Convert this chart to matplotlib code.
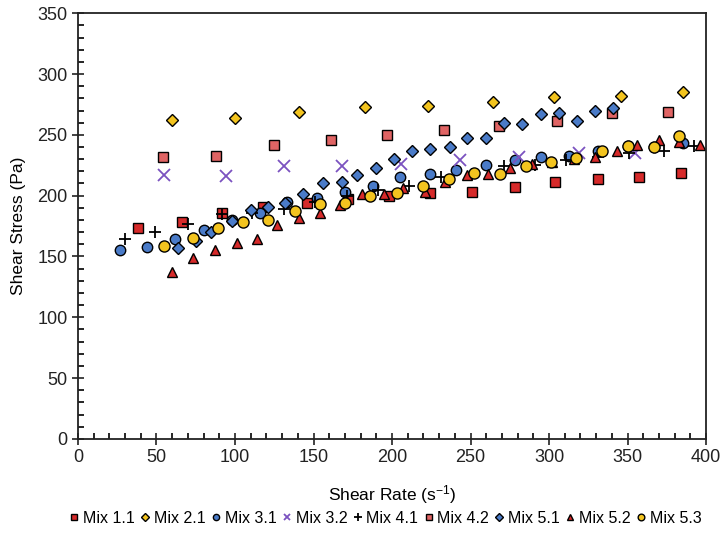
import matplotlib
matplotlib.use("Agg")
import matplotlib.pyplot as plt
from matplotlib.ticker import MultipleLocator

plt.rcParams['font.family'] = ['Liberation Sans', 'DejaVu Sans']
plt.rcParams['mathtext.default'] = 'regular'

# Mix 1.1
x11 = [38, 66, 92, 118, 146, 172, 198, 224, 251, 278, 304, 331, 357, 384]
y11 = [173, 178, 186, 191, 194, 197, 200, 202, 203, 207, 211, 214, 215, 219]
# Mix 2.1
x21 = [60, 100, 141, 183, 223, 264, 303, 346, 385]
y21 = [262, 264, 269, 273, 274, 277, 281, 282, 285]
# Mix 3.1
x31 = [27, 44, 62, 80, 98, 116, 133, 152, 170, 188, 205, 224, 241, 260, 278,
       295, 313, 331, 350, 367, 385]
y31 = [155, 158, 164, 172, 180, 186, 195, 198, 203, 208, 215, 218, 221, 225, 229,
       232, 233, 237, 241, 240, 243]
# Mix 3.2
x32 = [55, 94, 131, 168, 206, 243, 281, 319, 355]
y32 = [217, 216, 224, 224, 226, 229, 232, 235, 235]
# Mix 4.1
x41 = [30, 49, 70, 92, 111, 131, 151, 171, 191, 211, 231, 251, 271, 291, 311,
       331, 351, 373, 392]
y41 = [164, 170, 177, 185, 186, 189, 195, 200, 205, 208, 215, 218, 224, 225, 229,
       232, 235, 237, 241]
# Mix 4.2
x42 = [54, 88, 125, 161, 197, 233, 268, 305, 340, 376]
y42 = [232, 233, 242, 246, 250, 254, 257, 261, 268, 269]
# Mix 5.1
x51 = [64, 75, 85, 98, 110, 121, 132, 143, 156, 168, 178, 190, 201, 213, 224,
       237, 248, 260, 271, 283, 295, 306, 318, 329, 341]
y51 = [157, 163, 170, 179, 188, 191, 194, 201, 210, 211, 217, 223, 230, 237, 238,
       240, 247, 247, 260, 259, 267, 268, 261, 270, 272]
# Mix 5.2
x52 = [60, 73, 87, 101, 114, 127, 141, 154, 167, 181, 195, 207, 221, 234, 248,
       261, 275, 289, 302, 316, 329, 343, 356, 370, 383, 396]
y52 = [137, 149, 155, 161, 164, 176, 182, 186, 192, 201, 201, 206, 203, 211, 217,
       218, 223, 226, 228, 230, 232, 237, 242, 246, 244, 242]
# Mix 5.3
x53 = [55, 73, 89, 105, 121, 138, 154, 170, 186, 203, 220, 236, 252, 269, 285,
       301, 317, 334, 350, 367, 383]
y53 = [159, 165, 173, 178, 180, 187, 193, 194, 200, 202, 208, 214, 219, 218, 224,
       228, 231, 237, 241, 240, 249]

fig = plt.figure(figsize=(7.22, 5.5), dpi=100)
ax = fig.add_axes([0.108, 0.202, 0.870, 0.774])

ec = 'black'
ax.plot(x11, y11, 's', ms=6.5, mfc='#d62a2a', mec=ec, mew=1, label='Mix 1.1')
ax.plot(x21, y21, 'D', ms=6.5, mfc='#f3c41f', mec=ec, mew=1, label='Mix 2.1')
ax.plot(x31, y31, 'o', ms=7.5, mfc='#4a7bc8', mec=ec, mew=1, label='Mix 3.1')
ax.plot(x32, y32, 'x', ms=8, mec='#7b52c0', mew=1.3, label='Mix 3.2')
ax.plot(x41, y41, '+', ms=9, mec='black', mew=1.3, label='Mix 4.1')
ax.plot(x42, y42, 's', ms=6.5, mfc='#e06464', mec=ec, mew=1, label='Mix 4.2')
ax.plot(x51, y51, 'D', ms=6.5, mfc='#4a7bc8', mec=ec, mew=1, label='Mix 5.1')
ax.plot(x52, y52, '^', ms=7.5, mfc='#d62a2a', mec=ec, mew=1, label='Mix 5.2')
ax.plot(x53, y53, 'o', ms=8, mfc='#f3c41f', mec=ec, mew=1, label='Mix 5.3')

ax.set_xlim(0, 400)
ax.set_ylim(0, 350)
ax.xaxis.set_major_locator(MultipleLocator(50))
ax.xaxis.set_minor_locator(MultipleLocator(10))
ax.yaxis.set_major_locator(MultipleLocator(50))
ax.yaxis.set_minor_locator(MultipleLocator(10))
ax.tick_params(which='major', direction='inout', length=8, width=1.2,
               labelsize=13, colors='#222222')
ax.tick_params(which='minor', direction='in', length=4, width=1.2)
for s in ax.spines.values():
    s.set_linewidth(1.3)
    s.set_color('#222222')

ax.set_xlabel('Shear Rate (s$^{-1}$)', fontsize=12.5, labelpad=12)
ax.set_ylabel('Shear Stress (Pa)', fontsize=12.5, labelpad=8)

ax.legend(loc='center', bbox_to_anchor=(0.489, -0.186), ncol=9, frameon=False,
          fontsize=11.5, markerscale=0.6, handlelength=0.7, handletextpad=0.2,
          columnspacing=0.3, borderpad=0)

fig.savefig('out.png', dpi=100)
